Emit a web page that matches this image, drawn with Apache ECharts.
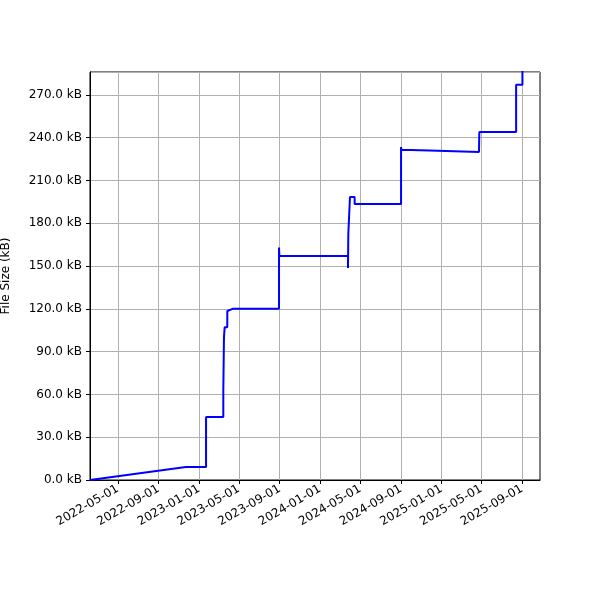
<!DOCTYPE html>
<html>
<head>
<meta charset="utf-8">
<script src="https://cdn.jsdelivr.net/npm/echarts@6/dist/echarts.min.js"></script>
<style>html,body{margin:0;padding:0;background:#fff}#c{width:600px;height:600px}</style>
</head>
<body>
<div id="c"></div>
<script>
// file size history
const dates = [
  '2022-02-06', '2022-11-22', '2023-01-22', '2023-01-22', '2023-03-15', '2023-03-15',
  '2023-03-17', '2023-03-17', '2023-03-19', '2023-03-19', '2023-03-27', '2023-03-27',
  '2023-04-12', '2023-08-30', '2023-08-30', '2023-08-31', '2023-08-31', '2024-03-25',
  '2024-03-25', '2024-03-26', '2024-03-26', '2024-03-31', '2024-03-31', '2024-04-14',
  '2024-04-14', '2024-09-01', '2024-09-01', '2024-09-02', '2024-11-25', '2025-04-24',
  '2025-04-24', '2025-04-25', '2025-08-14', '2025-08-14', '2025-09-02', '2025-09-02'
];
const sizes = [
  0, 9.1, 9.1, 44.2, 44.2, 61.7,
  61.7, 100, 100, 107, 107, 118.5,
  120, 120, 163, 163, 157, 157,
  148.6, 148.6, 173, 173, 198.4, 198.4,
  193.5, 193.5, 233.4, 231.5, 231, 230,
  230, 244, 244, 277, 277, 295
];
const tickDates = [
  '2022-05-01', '2022-09-01', '2023-01-01', '2023-05-01', '2023-09-01', '2024-01-01',
  '2024-05-01', '2024-09-01', '2025-01-01', '2025-05-01', '2025-09-01'
];

const ts = s => { const p = s.split('-').map(Number); return Date.UTC(p[0], p[1] - 1, p[2]); };
const ticks = tickDates.map(ts);
const pad = n => (n < 10 ? '0' : '') + n;
const fmt = v => { const d = new Date(v); return d.getUTCFullYear() + '-' + pad(d.getUTCMonth() + 1) + '-' + pad(d.getUTCDate()); };

const font = 'DejaVu Sans';
const chart = echarts.init(document.getElementById('c'));
chart.setOption({
  animation: false,
  textStyle: { fontFamily: font },
  grid: {
    left: 90, right: 60, top: 72, bottom: 120,
    containLabel: false, outerBoundsMode: 'none',
    show: true, borderColor: '#000', borderWidth: 1
  },
  xAxis: {
    type: 'value',
    min: ts('2022-02-06'),
    max: ts('2025-10-25'),
    axisLine: { lineStyle: { color: '#000' } },
    axisTick: { show: true, customValues: ticks, length: 4, lineStyle: { color: '#000' } },
    axisLabel: {
      customValues: ticks, formatter: fmt, rotate: 30, color: '#000',
      fontSize: 12, fontFamily: font, margin: 8, showMinLabel: true, showMaxLabel: true
    },
    splitLine: { show: true, lineStyle: { color: '#b0b0b0', width: 1 } }
  },
  yAxis: {
    type: 'value',
    min: 0, max: 286, interval: 30,
    name: 'File Size (kB)',
    nameLocation: 'middle',
    nameGap: 78,
    nameTextStyle: { color: '#000', fontSize: 12, fontFamily: font },
    axisLine: { show: true, lineStyle: { color: '#000' } },
    axisTick: { show: true, length: 4, lineStyle: { color: '#000' } },
    axisLabel: { formatter: v => v.toFixed(1) + ' kB', color: '#000', fontSize: 12, fontFamily: font, showMaxLabel: false },
    splitLine: { show: true, lineStyle: { color: '#b0b0b0', width: 1 } }
  },
  series: [{
    type: 'line',
    data: dates.map((d, i) => [ts(d), sizes[i]]),
    showSymbol: false,
    clip: true,
    lineStyle: { color: '#0000ff', width: 2 }
  }]
});
</script>
</body>
</html>
